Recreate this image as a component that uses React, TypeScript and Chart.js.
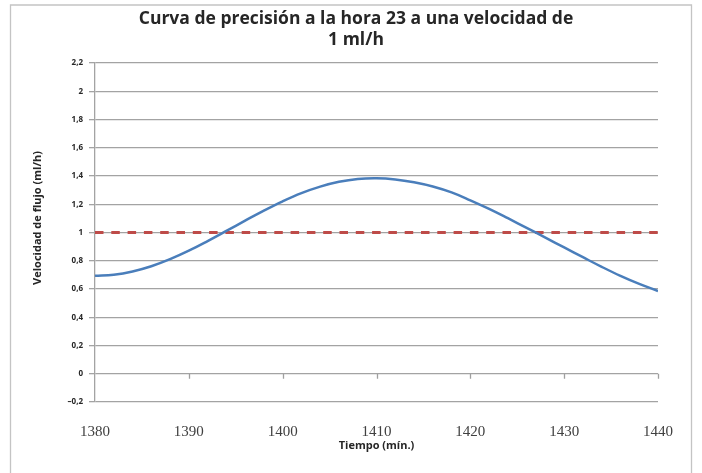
import React, { useEffect, useRef } from "react";
import { Chart, registerables } from "chart.js";

Chart.register(...registerables);

const titleLines = ["Curva de precisión a la hora 23 a una velocidad de", "1 ml/h"];
const xAxisTitle = "Tiempo (mín.)";
const yAxisTitle = "Velocidad de flujo (ml/h)";

const minutes = [
  1380, 1382, 1384, 1386, 1388, 1390, 1392, 1394, 1396, 1398, 1400, 1402, 1404, 1406, 1408, 1410,
  1412, 1414, 1416, 1418, 1420, 1422, 1424, 1426, 1428, 1430, 1432, 1434, 1436, 1438, 1440,
];
const flowRate = [
  0.693, 0.701, 0.724, 0.761, 0.811, 0.871, 0.939, 1.011, 1.084, 1.155, 1.221, 1.279, 1.325, 1.359,
  1.379, 1.384, 1.376, 1.356, 1.326, 1.284, 1.228, 1.167, 1.101, 1.033, 0.964, 0.894, 0.825, 0.757,
  0.693, 0.636, 0.586,
];
const targetMinutes = [1380, 1440];
const targetRate = [1, 1];

const xMin = 1380;
const xMax = 1440;
const xStep = 10;
const yMin = -0.2;
const yMax = 2.2;
const yStep = 0.2;

const formatY = (v: number) => {
  const r = Math.round(v * 10) / 10;
  if (Math.abs(r) < 1e-9) return "0";
  return String(r).replace(".", ",").replace("-", "\u2013");
};

const framePlugin = {
  id: "frame",
  beforeDraw(chart: any) {
    const ctx = chart.ctx;
    ctx.save();
    ctx.fillStyle = "#ffffff";
    ctx.fillRect(0, 0, chart.width, chart.height);
    ctx.strokeStyle = "#c4c4c4";
    ctx.lineWidth = 1.3;
    ctx.beginPath();
    ctx.moveTo(10.5, chart.height + 2);
    ctx.lineTo(10.5, 5);
    ctx.lineTo(691.5, 5);
    ctx.lineTo(691.5, chart.height + 2);
    ctx.stroke();
    ctx.restore();
  },
  afterDraw(chart: any) {
    const ctx = chart.ctx;
    ctx.save();
    ctx.fillStyle = "#262626";
    ctx.font = "bold 17.5px 'Open Sans'";
    ctx.textAlign = "center";
    ctx.textBaseline = "middle";
    titleLines.forEach((line, i) => {
      ctx.fillText(line, 356, 19 + i * 21);
    });
    // y-axis title
    ctx.font = "bold 11px 'Open Sans'";
    ctx.translate(38, 218);
    ctx.rotate(-Math.PI / 2);
    ctx.fillText(yAxisTitle, 0, 0);
    ctx.restore();
  },
  beforeDatasetsDraw(chart: any) {
    const ctx = chart.ctx;
    const xs = chart.scales.x;
    const ys = chart.scales.y;
    const y0 = ys.getPixelForValue(0);
    ctx.save();
    ctx.strokeStyle = "#9f9f9f";
    ctx.lineWidth = 1.3;
    ctx.beginPath();
    for (let v = xMin + xStep; v <= xMax; v += xStep) {
      const px = Math.round(xs.getPixelForValue(v)) + 0.5;
      ctx.moveTo(px, y0);
      ctx.lineTo(px, y0 + 5);
    }
    ctx.stroke();
    ctx.restore();
  },
};

export default function App() {
  const canvasRef = useRef<HTMLCanvasElement | null>(null);

  useEffect(() => {
    if (!canvasRef.current) return;
    const chart = new Chart(canvasRef.current, {
      type: "line",
      data: {
        datasets: [
          {
            label: "Objetivo",
            data: targetMinutes.map((x, i) => ({ x, y: targetRate[i] })),
            borderColor: "#be4b48",
            borderWidth: 3,
            borderDash: [8.5, 7.8],
            pointRadius: 0,
            tension: 0,
            order: 2,
          },
          {
            label: "Velocidad",
            data: minutes.map((x, i) => ({ x, y: flowRate[i] })),
            borderColor: "#4a7ebb",
            borderWidth: 2.5,
            pointRadius: 0,
            tension: 0.4,
            order: 1,
          },
        ],
      },
      options: {
        animation: false,
        responsive: false,
        devicePixelRatio: 1,
        layout: { padding: { left: 12, right: 44, top: 63, bottom: 10 } },
        plugins: {
          legend: { display: false },
          title: { display: false },
          tooltip: { enabled: false },
        },
        scales: {
          x: {
            type: "linear",
            min: xMin,
            max: xMax,
            grid: { display: false },
            border: { display: false },
            ticks: {
              stepSize: xStep,
              padding: 13,
              color: "#404040",
              font: { family: "'Liberation Serif'", size: 15 },
              maxRotation: 0,
              callback: (v: any) => String(v),
            },
            title: {
              display: true,
              text: xAxisTitle,
              color: "#262626",
              font: { family: "'Open Sans'", size: 11, weight: "bold" },
              padding: { top: 0, bottom: 11 },
            },
            afterFit: (scale: any) => {
              scale.height = 61;
            },
          },
          y: {
            type: "linear",
            min: yMin,
            max: yMax,
            grid: {
              color: "#a3a3a3",
              lineWidth: 1.3,
              tickLength: 6,
              drawTicks: true,
            },
            border: { display: true, color: "#a3a3a3", width: 1.3 },
            ticks: {
              stepSize: yStep,
              padding: 6,
              color: "#262626",
              font: { family: "'Open Sans'", size: 8, weight: "bold" },
              callback: (v: any) => formatY(Number(v)),
            },
            title: { display: false },
            afterFit: (scale: any) => {
              scale.width = 83;
            },
          },
        },
      },
      plugins: [framePlugin],
    });
    return () => chart.destroy();
  }, []);

  return (
    <div style={{ position: "fixed", left: 0, top: 0, width: 702, height: 473, background: "#fff" }}>
      <canvas ref={canvasRef} width={702} height={473} style={{ display: "block", width: 702, height: 473 }} />
    </div>
  );
}
